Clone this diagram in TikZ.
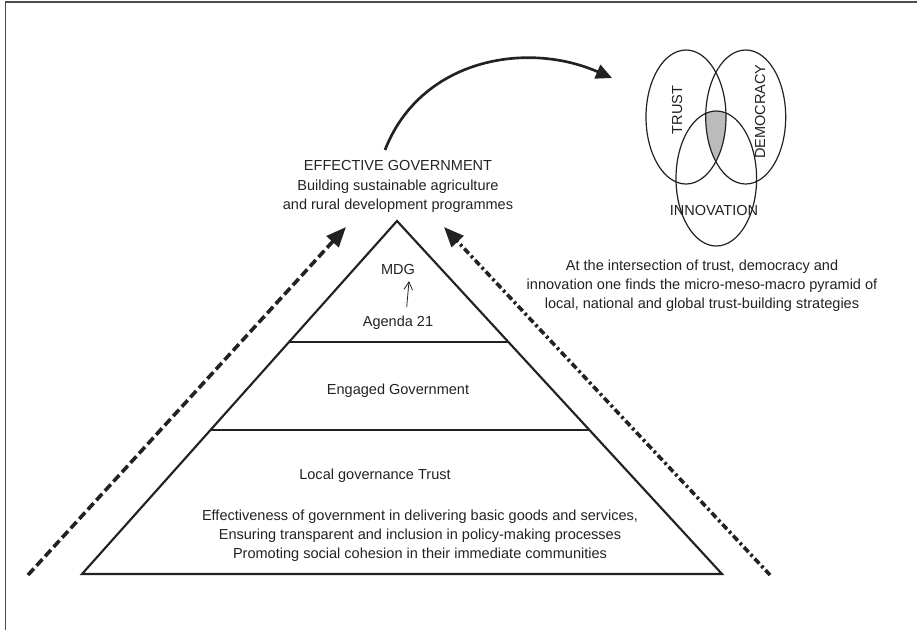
\documentclass[tikz,border=0pt]{standalone}
\usepackage{fontspec}
\setmainfont{Liberation Sans}
\usetikzlibrary{arrows.meta,calc}

\definecolor{ink}{HTML}{222222}
\definecolor{venngray}{HTML}{BBBBBD}

\tikzset{
  txt/.style={text=ink, align=center, inner sep=0pt},
  tier/.style={line width=1.6pt, draw=ink},
  frameline/.style={line width=1pt, draw=black!70},
  dasharrow/.style={line width=2.7pt, draw=ink, dash pattern=on 6.5pt off 3pt,
    -{Triangle[length=15pt,width=12pt,fill=ink]}},
  dotdasharrow/.style={line width=2.7pt, draw=ink, dash pattern=on 5pt off 2.4pt on 2pt off 2.4pt,
    -{Triangle[length=15pt,width=12pt,fill=ink]}},
  bigcurve/.style={line width=2pt, draw=ink, -{Triangle[length=12pt,width=11pt,fill=ink]}},
  vennring/.style={line width=0.9pt, draw=ink},
  smallarrow/.style={line width=0.6pt, draw=ink, -{Straight Barb[length=6pt,width=6.5pt]}}
}

\begin{document}
\begin{tikzpicture}[x=0.75pt, y=-0.75pt, font=\fontsize{10.9}{14.4}\selectfont]
\useasboundingbox (0,0) rectangle (917,629);

% outer frame (left and top edges)
\draw[frameline] (5.3,640) -- (5.3,2) -- (930,2);

% pyramid corners
\coordinate (apex) at (397,221);
\coordinate (bl) at (82,574);
\coordinate (br) at (722,574);
\draw[tier, line join=miter] (apex) -- (bl) -- (br) -- cycle;

% tier dividers
\coordinate (d1l) at ($(apex)!0.342!(bl)$);
\coordinate (d1r) at ($(apex)!0.342!(br)$);
\coordinate (d2l) at ($(apex)!0.592!(bl)$);
\coordinate (d2r) at ($(apex)!0.592!(br)$);
\draw[tier] (d1l) -- (d1r);
\draw[tier] (d2l) -- (d2r);

% pyramid labels
\node[txt] (mdg) at (398,269) {MDG};
\node[txt] (agenda) at (398,322.5) {Agenda 21};
\coordinate (ua) at (406.7,307);
\coordinate (ub) at (409,281);
\draw[smallarrow] (ua) -- (ub);
\node[txt] (engaged) at (398,391) {Engaged Government};
\node[txt] (local) at (375,476) {Local governance Trust};
\node[txt, font=\fontsize{10.9}{14.25}\selectfont] (basics) at (420,536)
  {Effectiveness of government in delivering basic goods and services,\\
   Ensuring transparent and inclusion in policy-making processes\\
   Promoting social cohesion in their immediate communities};

% goal at the top
\node[txt, font=\fontsize{10.9}{14.8}\selectfont] (goal) at (398,186.5)
  {EFFECTIVE GOVERNMENT\\Building sustainable agriculture\\and rural development programmes};

% rising arrows along the pyramid
\coordinate (ls) at (28,575);
\coordinate (lt) at (346,227);
\draw[dasharrow] (ls) -- (lt);
\coordinate (rs) at (770,575);
\coordinate (rt) at (444,227);
\draw[dotdasharrow] (rs) -- (rt);

% curved arrow to the Venn diagram
\coordinate (cs) at (385,150);
\coordinate (ce) at (612,78);
\draw[bigcurve] (cs) .. controls (420,60) and (525,40) .. (ce);

% Venn diagram
\begin{scope}
  \clip (686,117) ellipse [x radius=40, y radius=67];
  \clip (745.7,117) ellipse [x radius=40, y radius=67];
  \fill[venngray] (716.3,178.5) ellipse [x radius=40.3, y radius=67.5];
\end{scope}
\draw[vennring] (686,117) ellipse [x radius=40, y radius=67];
\draw[vennring] (745.7,117) ellipse [x radius=40, y radius=67];
\draw[vennring] (716.3,178.5) ellipse [x radius=40.3, y radius=67.5];
\node[txt, rotate=90] (trust) at (677,110) {TRUST};
\node[txt, rotate=90] (democracy) at (760,111.7) {DEMOCRACY};
\node[txt] (innovation) at (714,210) {INNOVATION};

% caption under the Venn diagram
\node[txt] (caption) at (702,285.5)
  {At the intersection of trust, democracy and\\
   innovation one finds the micro-meso-macro pyramid of\\
   local, national and global trust-building strategies};
\end{tikzpicture}
\end{document}
